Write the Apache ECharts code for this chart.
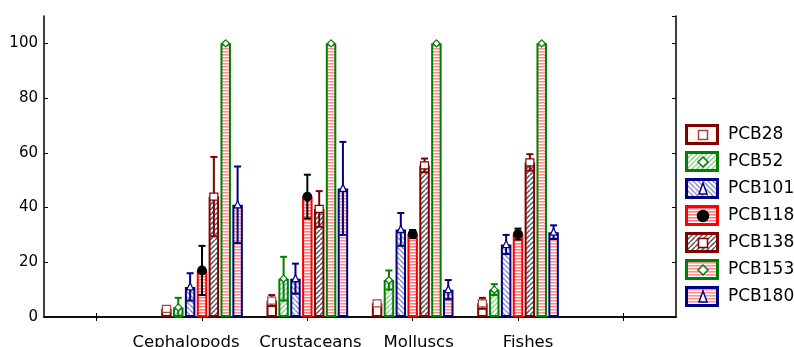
<!DOCTYPE html>
<html><head><meta charset="utf-8">
<script src="https://cdn.jsdelivr.net/npm/echarts@6/dist/echarts.min.js"></script>
<style>html,body{margin:0;padding:0;background:#fff}#c{width:794px;height:347px}</style>
</head><body><div id="c"></div>
<script>
// ---------- data ----------
const categories = ['Cephalopods', 'Crustaceans', 'Molluscs', 'Fishes'];
const seriesNames = ['PCB28', 'PCB52', 'PCB101', 'PCB118', 'PCB138', 'PCB153', 'PCB180'];
const yTicks = [0, 20, 40, 60, 80, 100];

const PCB28      = [3, 6, 5, 5];
const PCB28_err  = [0.5, 2, 0.5, 2];
const PCB52      = [3.5, 14, 13.5, 10];
const PCB52_err  = [3.5, 8, 3.5, 2];
const PCB101     = [11, 14, 32, 26.5];
const PCB101_err = [5, 5.5, 6, 3.5];
const PCB118     = [17, 44, 30.3, 30.3];
const PCB118_err = [9, 8, 1.5, 2];
const PCB138     = [44, 39.5, 55.4, 56.5];
const PCB138_err = [14.5, 6.5, 2.5, 3];
const PCB153     = [100, 100, 100, 100];
const PCB153_err = [0, 0, 0, 0];
const PCB180     = [41, 47, 10, 31];
const PCB180_err = [14, 17, 3.5, 2.5];

const means = [PCB28, PCB52, PCB101, PCB118, PCB138, PCB153, PCB180];
const errs  = [PCB28_err, PCB52_err, PCB101_err, PCB118_err, PCB138_err, PCB153_err, PCB180_err];

// ---------- styles ----------
const styles = [
  {border: '#800000', err: '#800000', marker: 'square',   mfill: '#ffffff', mstroke: '#a04848', pattern: 'plain',    pcolor: '#fff9f2'},
  {border: '#008000', err: '#008000', marker: 'diamond',  mfill: '#ffffff', mstroke: '#008000', pattern: 'diagUp',   pcolor: '#8fcc8f'},
  {border: '#000080', err: '#000080', marker: 'triangle', mfill: '#ffffff', mstroke: '#000080', pattern: 'diagDown', pcolor: '#8c8cd0'},
  {border: '#ff0000', err: '#000000', marker: 'circle',   mfill: '#000000', mstroke: '#000000', pattern: 'hstripe',  pcolor: '#ff7c7c'},
  {border: '#800000', err: '#800000', marker: 'square',   mfill: '#ffffff', mstroke: '#800000', pattern: 'diagUp',   pcolor: '#555555'},
  {border: '#008000', err: '#008000', marker: 'diamond',  mfill: '#ffffff', mstroke: '#008000', pattern: 'hstripe',  pcolor: '#ff9090'},
  {border: '#000080', err: '#000080', marker: 'triangle', mfill: '#ffffff', mstroke: '#000080', pattern: 'hstripe',  pcolor: '#ff9090'}
];
const BAR_W = 10.5, BAR_GAP = 0.13, SLOT = BAR_W * (1 + BAR_GAP);
const labelShift = [-16, 3, 6, 10];
const FONT = 'DejaVu Sans';

function makePattern(type, color) {
  const cv = document.createElement('canvas');
  const ctx = cv.getContext('2d');
  if (type === 'plain') {
    cv.width = 4; cv.height = 4;
    ctx.fillStyle = color; ctx.fillRect(0, 0, 4, 4);
  } else if (type === 'hstripe') {
    cv.width = 4; cv.height = 3;
    ctx.fillStyle = '#ffffff'; ctx.fillRect(0, 0, 4, 3);
    ctx.fillStyle = color; ctx.fillRect(0, 0, 4, 1.6);
  } else {
    const s = 5;
    cv.width = s; cv.height = s;
    ctx.fillStyle = '#ffffff'; ctx.fillRect(0, 0, s, s);
    ctx.strokeStyle = color; ctx.lineWidth = 1.5;
    ctx.beginPath();
    for (let k = -1; k <= 1; k++) {
      if (type === 'diagUp') { ctx.moveTo(k * s, s); ctx.lineTo(k * s + s, 0); }
      else { ctx.moveTo(k * s, 0); ctx.lineTo(k * s + s, s); }
    }
    ctx.stroke();
  }
  return cv;
}
const patterns = styles.map(s => makePattern(s.pattern, s.pcolor));

function drawMarker(ctx, kind, x, y, r, fill, stroke) {
  ctx.fillStyle = fill; ctx.strokeStyle = stroke; ctx.lineWidth = 1.5;
  ctx.beginPath();
  if (kind === 'square') ctx.rect(x - r, y - r, 2 * r, 2 * r);
  else if (kind === 'diamond') { ctx.moveTo(x, y - r); ctx.lineTo(x + r, y); ctx.lineTo(x, y + r); ctx.lineTo(x - r, y); ctx.closePath(); }
  else if (kind === 'triangle') { ctx.moveTo(x, y - r * 1.2); ctx.lineTo(x + r * 0.8, y + r); ctx.lineTo(x - r * 0.8, y + r); ctx.closePath(); }
  else ctx.arc(x, y, r, 0, Math.PI * 2);
  ctx.fill(); ctx.stroke();
}
function makeIcon(i) {
  const w = 34, h = 21, st = styles[i];
  const cv = document.createElement('canvas');
  cv.width = w; cv.height = h;
  const ctx = cv.getContext('2d');
  ctx.fillStyle = ctx.createPattern(patterns[i], 'repeat');
  ctx.fillRect(0, 0, w, h);
  ctx.strokeStyle = st.border; ctx.lineWidth = 3;
  ctx.strokeRect(1.5, 1.5, w - 3, h - 3);
  const r = st.marker === 'circle' ? 5.5 : (st.marker === 'square' ? 4.5 : 5);
  drawMarker(ctx, st.marker, w / 2 + 1, h / 2 + 0.5, r, st.mfill, st.mstroke);
  return cv.toDataURL();
}

// ---------- build option ----------
const axisCats = [''].concat(categories, ['']);

function markerShape(st, x, y) {
  const s = {fill: st.mfill, stroke: st.mstroke, lineWidth: 1.2};
  if (st.marker === 'square') return {type: 'rect', shape: {x: x - 4, y: y - 3.5, width: 8, height: 7}, style: s};
  if (st.marker === 'circle') return {type: 'circle', shape: {cx: x, cy: y, r: 4.3}, style: s};
  if (st.marker === 'diamond') return {type: 'polygon', shape: {points: [[x, y - 3.5], [x + 3.5, y], [x, y + 3.5], [x - 3.5, y]]}, style: s};
  return {type: 'polygon', shape: {points: [[x, y - 4], [x + 3.5, y + 3], [x - 3.5, y + 3]]}, style: s};
}

const series = [];
seriesNames.forEach((name, i) => {
  series.push({
    name: name, type: 'bar', xAxisIndex: 0, yAxisIndex: 0,
    barWidth: BAR_W, barGap: (BAR_GAP * 100) + '%',
    data: ['-'].concat(means[i], ['-']),
    itemStyle: {color: {image: patterns[i], repeat: 'repeat'}, borderColor: styles[i].border, borderWidth: 2},
    emphasis: {disabled: true}, silent: true
  });
});
seriesNames.forEach((name, i) => {
  series.push({
    name: name + ' err', type: 'custom', xAxisIndex: 0, yAxisIndex: 0,
    encode: {x: 0, y: 1}, silent: true, z: 5,
    data: means[i].map((v, k) => [k + 1, v, errs[i][k]]),
    renderItem: function (params, api) {
      const cat = api.value(0), v = api.value(1), e = api.value(2);
      const c = api.coord([cat, v]);
      const x = c[0] + (i - 3) * SLOT;
      const st = styles[i];
      const children = [];
      if (e > 0) {
        const yT = api.coord([cat, v + e])[1], yB = api.coord([cat, v - e])[1];
        const ls = {stroke: st.err, lineWidth: 2};
        children.push({type: 'line', shape: {x1: x, y1: yT, x2: x, y2: yB}, style: ls});
        children.push({type: 'line', shape: {x1: x - 3.5, y1: yT, x2: x + 3.5, y2: yT}, style: ls});
        children.push({type: 'line', shape: {x1: x - 3.5, y1: yB, x2: x + 3.5, y2: yB}, style: ls});
      }
      children.push(markerShape(st, x, c[1]));
      return {type: 'group', children: children};
    }
  });
});

const richStyles = {};
labelShift.forEach((d, k) => {
  richStyles['s' + k] = {fontFamily: FONT, fontSize: 16.5, color: '#000',
    padding: d < 0 ? [0, -2 * d, 0, 0] : [0, 0, 0, 2 * d]};
});

const axisLineStyle = {show: true, lineStyle: {color: '#000', width: 1.5}};
const tickStyle = {show: true, inside: true, length: 4, lineStyle: {color: '#000', width: 1}};

const option = {
  animation: false,
  backgroundColor: '#fff',
  grid: {left: 44, right: 118, top: 16, bottom: 30, containLabel: false, outerBoundsMode: 'none'},
  legend: {
    orient: 'vertical', left: 685, top: 124, padding: 0,
    itemWidth: 34, itemHeight: 21, itemGap: 6, selectedMode: false,
    data: seriesNames.map((n, i) => ({name: n, icon: 'image://' + makeIcon(i)})),
    textStyle: {fontFamily: FONT, fontSize: 17, color: '#000', padding: [0, 0, 0, 4]}
  },
  xAxis: [
    {type: 'category', data: axisCats, position: 'bottom', boundaryGap: true,
     axisLine: axisLineStyle, axisTick: Object.assign({alignWithLabel: true}, tickStyle),
     axisLabel: {interval: 0, margin: 17, fontFamily: FONT, fontSize: 16.5, color: '#000',
       formatter: function (v) { const k = categories.indexOf(v); return k < 0 ? '' : '{s' + k + '|' + v + '}'; },
       rich: richStyles},
     splitLine: {show: false}},
    {type: 'category', data: axisCats, position: 'top', boundaryGap: true,
     axisLine: axisLineStyle, axisTick: Object.assign({alignWithLabel: true}, tickStyle),
     axisLabel: {show: false}, splitLine: {show: false}}
  ],
  yAxis: [
    {type: 'value', min: yTicks[0], max: 110, interval: yTicks[1] - yTicks[0], position: 'left',
     axisLine: axisLineStyle, axisTick: tickStyle,
     axisLabel: {showMaxLabel: false, margin: 6, fontFamily: FONT, fontSize: 15, color: '#000',
       formatter: function (v) { return yTicks.indexOf(v) >= 0 ? String(v) : ''; }},
     splitLine: {show: false}},
    {type: 'value', min: yTicks[0], max: 110, interval: yTicks[1] - yTicks[0], position: 'right',
     axisLine: axisLineStyle, axisTick: tickStyle, axisLabel: {show: false}, splitLine: {show: false}}
  ],
  series: series
};

const chart = echarts.init(document.getElementById('c'), null, {renderer: 'canvas'});
chart.setOption(option);
</script>
</body></html>
